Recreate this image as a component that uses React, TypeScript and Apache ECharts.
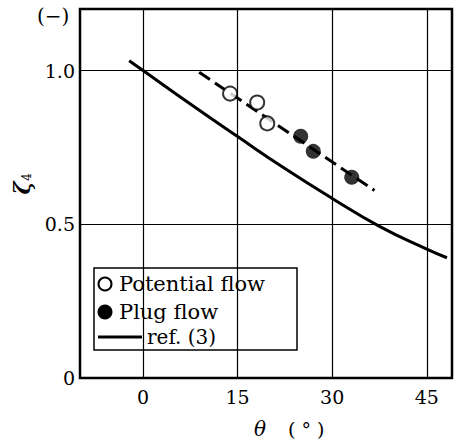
import React, { useEffect, useRef } from "react";
import * as echarts from "echarts";

const xTicks = [0, 15, 30, 45];
const yTicks = [0, 0.5, 1.0];
const gridX = [0, 15, 30, 45];
const gridY = [0.5, 1.0];

const potentialTheta = [13.8, 18.1, 19.7];
const potentialZeta = [0.925, 0.896, 0.828];
const plugTheta = [25.0, 27.0, 33.1];
const plugZeta = [0.786, 0.737, 0.653];
const fitTheta = [8.9, 36.7];
const fitZeta = [0.994, 0.61];
const refTheta = [-2.2, 0, 7.5, 15, 22.5, 30, 37.5, 45, 48.2];
const refZeta = [1.032, 1.0, 0.891, 0.785, 0.681, 0.584, 0.493, 0.419, 0.391];

const legendLabels = ["Potential flow", "Plug flow", "ref. (3)"];

const SERIF = "DejaVu Serif";

const zip = (a: number[], b: number[]) => a.map((v, i) => [v, b[i]]);

export default function App() {
  const ref = useRef<HTMLDivElement>(null);
  useEffect(() => {
    if (!ref.current) return;
    const chart = echarts.init(ref.current, null, { renderer: "svg", width: 457, height: 443 });
    const labelStyle = { fontFamily: SERIF, fontSize: 19, color: "#000" };
    chart.setOption({
      animation: false,
      backgroundColor: "#fff",
      grid: { left: 80, right: 5, top: 9, bottom: 65, show: true, borderColor: "#000", borderWidth: 2.5 },
      xAxis: {
        type: "value",
        min: -10,
        max: 49,
        axisLine: { show: false },
        axisTick: { show: false },
        splitLine: { show: false },
        axisLabel: { ...labelStyle, margin: 9, customValues: xTicks },
      },
      yAxis: {
        type: "value",
        min: 0,
        max: 1.2,
        axisLine: { show: false },
        axisTick: { show: false },
        splitLine: { show: false },
        axisLabel: {
          ...labelStyle,
          margin: 5,
          customValues: yTicks,
          formatter: (v: number) => (v === 0 ? "0" : v.toFixed(1)),
        },
      },
      series: [
        {
          name: legendLabels[2],
          type: "line",
          data: zip(refTheta, refZeta),
          smooth: true,
          symbol: "none",
          lineStyle: { color: "#000", width: 3 },
          z: 2,
          markLine: {
            silent: true,
            symbol: ["none", "none"],
            label: { show: false },
            lineStyle: { color: "#000", width: 1.2, type: "solid" },
            data: [...gridX.map((v) => ({ xAxis: v })), ...gridY.map((v) => ({ yAxis: v }))],
          },
        },
        {
          name: "fit",
          type: "line",
          data: zip(fitTheta, fitZeta),
          symbol: "none",
          lineStyle: { color: "#000", width: 3, type: [13, 6] },
          z: 3,
        },
        {
          name: legendLabels[0],
          type: "scatter",
          data: zip(potentialTheta, potentialZeta),
          symbol: "circle",
          symbolSize: 14,
          itemStyle: { color: "#fff", borderColor: "#000", borderWidth: 2 },
          z: 4,
        },
        {
          name: legendLabels[1],
          type: "scatter",
          data: zip(plugTheta, plugZeta),
          symbol: "circle",
          symbolSize: 15,
          itemStyle: { color: "#000" },
          z: 4,
        },
      ],
      graphic: [
        {
          type: "text",
          x: 37,
          y: 16,
          style: { text: "(−)", fontFamily: SERIF, fontSize: 20, fill: "#000", verticalAlign: "middle" },
        },
        {
          type: "group",
          x: 22,
          y: 188,
          rotation: Math.PI / 2,
          children: [
            {
              type: "text",
              x: 0,
              y: 0,
              style: { text: "ζ", fontFamily: SERIF, fontSize: 22, fontStyle: "italic", fontWeight: "bold", fill: "#000", align: "center", verticalAlign: "middle" },
            },
            {
              type: "text",
              x: 11,
              y: 5,
              style: { text: "4", fontFamily: SERIF, fontSize: 12, fill: "#000", align: "center", verticalAlign: "middle" },
            },
          ],
        },
        {
          type: "text",
          x: 254,
          y: 429,
          style: { text: "θ", fontFamily: SERIF, fontSize: 20, fontStyle: "italic", fill: "#000", verticalAlign: "middle" },
        },
        {
          type: "text",
          x: 288,
          y: 429,
          style: { text: "( ° )", fontFamily: SERIF, fontSize: 19, fill: "#000", verticalAlign: "middle" },
        },
        {
          type: "group",
          z: 100,
          children: [
            {
              type: "rect",
              shape: { x: 94, y: 268, width: 203, height: 82 },
              style: { fill: "#fff", stroke: "#000", lineWidth: 1.5 },
            },
            { type: "circle", shape: { cx: 105, cy: 284, r: 6.5 }, style: { fill: "#fff", stroke: "#000", lineWidth: 2 } },
            { type: "circle", shape: { cx: 105, cy: 312, r: 7.5 }, style: { fill: "#000" } },
            { type: "line", shape: { x1: 98, y1: 337, x2: 142, y2: 337 }, style: { stroke: "#000", lineWidth: 3 } },
            { type: "text", x: 119, y: 284, style: { text: legendLabels[0], fontFamily: SERIF, fontSize: 21, fill: "#000", verticalAlign: "middle" } },
            { type: "text", x: 119, y: 312, style: { text: legendLabels[1], fontFamily: SERIF, fontSize: 21, fill: "#000", verticalAlign: "middle" } },
            { type: "text", x: 147, y: 337, style: { text: legendLabels[2], fontFamily: SERIF, fontSize: 20, fill: "#000", verticalAlign: "middle" } },
          ],
        },
      ],
    });
    return () => chart.dispose();
  }, []);
  return <div ref={ref} style={{ width: 457, height: 443, position: "absolute", left: 0, top: 0 }} />;
}
